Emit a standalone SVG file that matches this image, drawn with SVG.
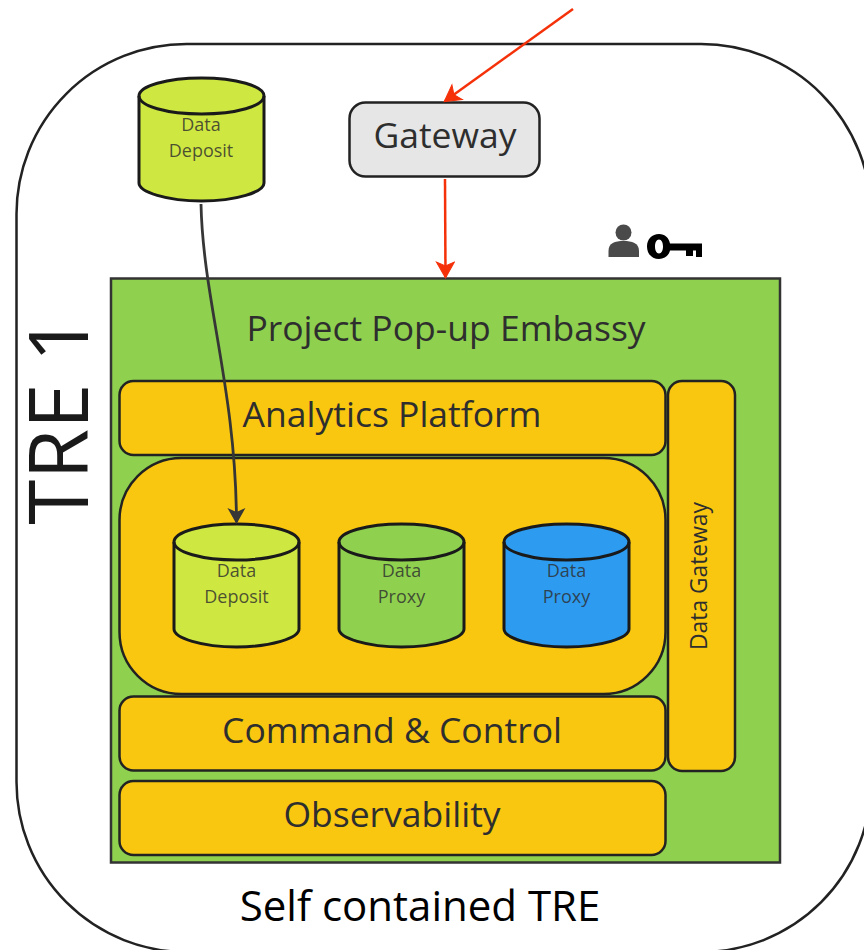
<svg xmlns="http://www.w3.org/2000/svg" width="864" height="950" viewBox="0 0 864 950">
<defs>
<style>
text{font-family:"Open Sans","Noto Sans",sans-serif;fill:#2e2e2e;text-anchor:middle}
.box{fill:#fac710;stroke:#222;stroke-width:2.5}
.cyl{stroke:#1a1a1a;stroke-width:3}
.big{font-size:35.500px}
.small{font-size:18px;fill-opacity:.82}
</style>
<marker id="redh" markerWidth="24" markerHeight="20" refX="18" refY="10" orient="auto" markerUnits="userSpaceOnUse"><path d="M3 1 L19 10 L3 19 L7 10 Z" fill="#f5310a" stroke="#f5310a" stroke-width="1"/></marker>
<marker id="darkh" markerWidth="24" markerHeight="20" refX="16" refY="10" orient="auto" markerUnits="userSpaceOnUse"><path d="M2 1 L18 10 L2 19 L6 10 Z" fill="#363636"/></marker>
</defs>
<rect width="864" height="950" fill="#fff"/>
<g id="tre"><rect x="16.500" y="44" width="854.500" height="908" rx="170" ry="170" fill="#fff" stroke="#222" stroke-width="2.500"/>
<text transform="translate(88 420) rotate(-90)" font-size="82" style="fill:#1a1a1a">TRE 1</text></g>
<g id="embassy"><rect x="111" y="278.500" width="669" height="584" fill="#8fd14f" stroke="#333" stroke-width="2.500"/>
<text class="big" x="446" y="340.500">Project Pop-up Embassy</text></g>
<g id="analytics"><rect class="box" x="119.500" y="381" width="546" height="74" rx="14"/><text class="big" x="392" y="427">Analytics Platform</text></g>
<g id="compute"><rect class="box" x="119.500" y="458" width="546" height="236" rx="62"/></g>
<g id="command"><rect class="box" x="119.500" y="696.500" width="546" height="74" rx="14"/><text class="big" x="392" y="742.500">Command &amp; Control</text></g>
<g id="observability"><rect class="box" x="119.500" y="781" width="546" height="74" rx="14"/><text class="big" x="392" y="827">Observability</text></g>
<g id="data-gateway"><rect class="box" x="668" y="381" width="67" height="390" rx="14"/><text transform="translate(707 576) rotate(-90)" font-size="22.800">Data Gateway</text></g>
<g id="gateway"><rect x="349.500" y="102.500" width="190" height="74" rx="16" fill="#e6e6e6" stroke="#222" stroke-width="2.500"/><text class="big" x="445" y="148">Gateway</text></g>
<g id="deposit-top"><path class="cyl" fill="#cee741" d="M139 96V183C139 192 167 201 201.500 201S264 192 264 183V96C264 86 236 78 201.500 78S139 86 139 96Z"/><path class="cyl" fill="none" d="M139 96C139 106 167 114 201.500 114S264 106 264 96"/><text class="small" x="201" y="131">Data</text><text class="small" x="201" y="157">Deposit</text></g>
<g id="deposit-inner"><path class="cyl" fill="#cee741" d="M174 542V629C174 638 202 647 236.500 647S299 638 299 629V542C299 532 271 524 236.500 524S174 532 174 542Z"/><path class="cyl" fill="none" d="M174 542C174 552 202 560 236.500 560S299 552 299 542"/><text class="small" x="236.500" y="577">Data</text><text class="small" x="236.500" y="603">Deposit</text></g>
<g id="proxy-green"><path class="cyl" fill="#8fd14f" d="M339 542V629C339 638 367 647 401.500 647S464 638 464 629V542C464 532 436 524 401.500 524S339 532 339 542Z"/><path class="cyl" fill="none" d="M339 542C339 552 367 560 401.500 560S464 552 464 542"/><text class="small" x="401.500" y="577">Data</text><text class="small" x="401.500" y="603">Proxy</text></g>
<g id="proxy-blue"><path class="cyl" fill="#2d9bf0" d="M504 542V629C504 638 532 647 566.500 647S629 638 629 629V542C629 532 601 524 566.500 524S504 532 504 542Z"/><path class="cyl" fill="none" d="M504 542C504 552 532 560 566.500 560S629 552 629 542"/><text class="small" x="566.500" y="577">Data</text><text class="small" x="566.500" y="603">Proxy</text></g>
<g id="user-key">
<circle cx="623.500" cy="232.500" r="8" fill="#4a4a4a"/><path d="M608.500 257V251C608.500 243 615 241 623.500 241S639 243 639 251V257Z" fill="#4a4a4a"/>
<path fill-rule="evenodd" d="M659 234C665 234 669 238 670 243.500H702V257H696V250.500H693V256H686V250.500H670C669 255 665 259 659 259C652 259 647 254 647 246.500S652 234 659 234ZM659 239.500C656.500 239.500 655 242.500 655 246.500S656.500 253.500 659 253.500S663 250.500 663 246.500S661.500 239.500 659 239.500Z" fill="#000"/>
</g>
<g id="connectors" fill="none">
<path d="M573 9L445 101" stroke="#f5310a" stroke-width="2.500" marker-end="url(#redh)"/>
<path d="M445 179L445.500 277" stroke="#f5310a" stroke-width="2.500" marker-end="url(#redh)"/>
<path d="M201 204C203 300 236 390 236.500 522" stroke="#363636" stroke-width="2.800" marker-end="url(#darkh)"/>
</g>
<text x="420" y="921" font-size="42" style="fill:#000">Self contained TRE</text>
</svg>
